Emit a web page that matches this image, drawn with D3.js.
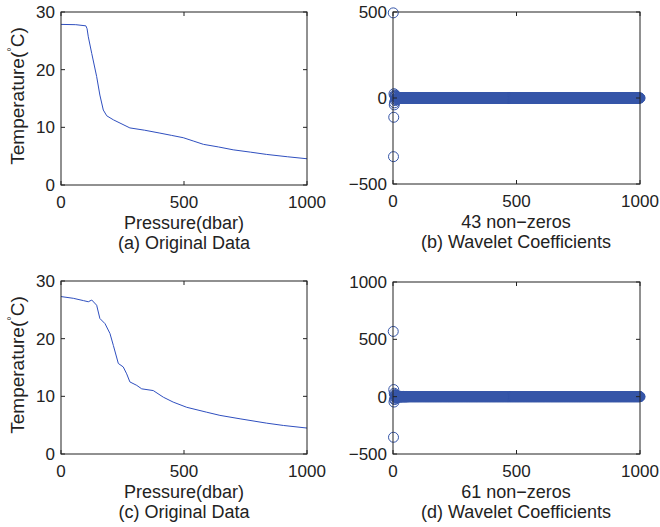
<!DOCTYPE html>
<html>
<head>
<meta charset="utf-8">
<script src="https://cdn.jsdelivr.net/npm/d3@7"></script>
<style>
  body { margin: 0; background: #fff; }
  text { font-family: Arial, "Liberation Sans", sans-serif; fill: #222; }
</style>
</head>
<body>
<div id="fig"></div>
<script>
// temperature profile (a)
var pressA = [0, 60, 101, 106, 111, 125, 145, 158, 172, 186, 213, 280, 340, 402, 450, 497, 540, 579, 640, 700, 770, 836, 920, 1000];
var tempA  = [27.85, 27.8, 27.6, 27.1, 25.7, 22.8, 18.8, 15.6, 13.0, 12.0, 11.3, 9.9, 9.5, 9.0, 8.6, 8.2, 7.6, 7.05, 6.6, 6.1, 5.7, 5.3, 4.9, 4.55];

// temperature profile (c)
var pressC = [0, 50, 91, 111, 125, 145, 158, 179, 199, 213, 233, 253, 267, 280, 308, 328, 375, 416, 456, 511, 592, 646, 728, 836, 904, 1000];
var tempC  = [27.3, 27.0, 26.6, 26.4, 26.7, 25.8, 23.5, 22.6, 20.9, 18.8, 15.7, 15.1, 13.9, 12.5, 11.9, 11.3, 11.0, 9.85, 9.0, 8.1, 7.25, 6.7, 6.1, 5.35, 4.95, 4.5];

// wavelet coefficients: number of samples, non-zero indices and values
var nCoef = 1000;
var nzIdxB = [1, 2, 3, 4, 5, 6, 7, 8, 9, 10, 11, 12, 13, 14, 15, 16, 17, 18, 19, 20, 21, 22, 23, 24, 25, 26, 27, 28, 29, 30, 31, 32, 33, 34, 35, 36, 37, 38, 39, 40, 41, 42, 43];
var nzValB = [495, -341, -112, 25, -40, -28, 18, 12, -15, 9, -8, 14, -6, 5, -10, 7, -4, 6, -5, 3, -3, 4, -2, 3, -2, 2, -3, 2, -1, 2, -2, 1, -1, 2, -1, 1, -2, 1, -1, 1, 2, -1, 1];
var nzIdxD = [1, 2, 3, 4, 5, 6, 7, 8, 9, 10, 11, 12, 13, 14, 15, 16, 17, 18, 19, 20, 21, 22, 23, 24, 25, 26, 27, 28, 29, 30, 31, 32, 33, 34, 35, 36, 37, 38, 39, 40, 41, 42, 43, 44, 45, 46, 47, 48, 49, 50, 51, 52, 53, 54, 55, 56, 57, 58, 59, 60, 61];
var nzValD = [569, -354, 62, -47, 30, -25, 18, -20, 12, -10, 15, -8, 9, -6, 7, -5, 6, -4, 5, -3, 4, -3, 3, -2, 4, -2, 3, -2, 2, -3, 2, -1, 2, -2, 1, -1, 2, -1, 1, -2, 1, -1, 2, -1, 1, -1, 1, -2, 1, -1, 1, -1, 2, -1, 1, -1, 1, -1, 1, -1, 1];

var xTicks = [0, 500, 1000];
var tempTicks = [0, 10, 20, 30];
var coefTicksB = [-500, 0, 500];
var coefTicksD = [-500, 0, 500, 1000];

var W = 660, H = 527;
var lineColor = "#2f4fbf";
var dotColor = "#3555a8";
var axisColor = "#222";

var svg = d3.select("#fig").append("svg")
  .attr("width", W).attr("height", H);

function fmt(v) { return v < 0 ? "\u2212" + Math.abs(v) : String(v); }

// draws a MATLAB style box with inward ticks on all sides
function drawBox(g, x, y, xt, yt) {
  var x0 = x.range()[0], x1 = x.range()[1];
  var y0 = y.range()[0], y1 = y.range()[1];
  g.append("rect")
    .attr("x", x0).attr("y", y1)
    .attr("width", x1 - x0).attr("height", y0 - y1)
    .attr("fill", "none").attr("stroke", axisColor).attr("stroke-width", 1);
  var tl = 4;
  xt.forEach(function (t) {
    var px = x(t);
    g.append("line").attr("x1", px).attr("x2", px).attr("y1", y0).attr("y2", y0 - tl)
      .attr("stroke", axisColor);
    g.append("line").attr("x1", px).attr("x2", px).attr("y1", y1).attr("y2", y1 + tl)
      .attr("stroke", axisColor);
    g.append("text").attr("x", px).attr("y", y0 + 22.5)
      .attr("text-anchor", "middle").style("font-size", "17px").text(fmt(t));
  });
  yt.forEach(function (t) {
    var py = y(t);
    g.append("line").attr("x1", x0).attr("x2", x0 + tl).attr("y1", py).attr("y2", py)
      .attr("stroke", axisColor);
    g.append("line").attr("x1", x1).attr("x2", x1 - tl).attr("y1", py).attr("y2", py)
      .attr("stroke", axisColor);
    g.append("text").attr("x", x0 - 6).attr("y", py + 6)
      .attr("text-anchor", "end").style("font-size", "17px").text(fmt(t));
  });
}

function curvePanel(top, pres, temp, cap) {
  var g = svg.append("g");
  var x = d3.scaleLinear().domain([0, 1000]).range([61, 307]);
  var y = d3.scaleLinear().domain([0, 30]).range([top + 173, top]);
  var line = d3.line().x(function (d) { return x(d[0]); }).y(function (d) { return y(d[1]); });
  g.append("path")
    .datum(d3.zip(pres, temp))
    .attr("d", line)
    .attr("fill", "none").attr("stroke", lineColor).attr("stroke-width", 1);
  drawBox(g, x, y, xTicks, tempTicks);

  var yl = g.append("text")
    .attr("transform", "translate(24," + (top + 84) + ") rotate(-90)")
    .attr("text-anchor", "middle").style("font-size", "19px");
  yl.append("tspan").text("Temperature(");
  yl.append("tspan").attr("dy", -9).style("font-size", "11px").text("\u00b0");
  yl.append("tspan").attr("dy", 9).text("C)");

  g.append("text").attr("x", 184).attr("y", top + 173 + 44)
    .attr("text-anchor", "middle").style("font-size", "18px").text("Pressure(dbar)");
  g.append("text").attr("x", 184).attr("y", top + 173 + 64)
    .attr("text-anchor", "middle").style("font-size", "18px").text(cap);
}

function coefPanel(top, ymin, ymax, yt, idx, val, label, cap) {
  var g = svg.append("g");
  var x = d3.scaleLinear().domain([0, 1000]).range([393, 640]);
  var y = d3.scaleLinear().domain([ymin, ymax]).range([top + 172, top]);
  var vals = new Array(nCoef).fill(0);
  idx.forEach(function (k, i) { vals[k - 1] = val[i]; });
  var pts = vals.map(function (v, i) { return [i + 1, v]; });
  g.selectAll("circle").data(pts).enter().append("circle")
    .attr("cx", function (d) { return x(d[0]); })
    .attr("cy", function (d) { return y(d[1]); })
    .attr("r", 5)
    .attr("fill", "none").attr("stroke", dotColor).attr("stroke-width", 1);
  drawBox(g, x, y, xTicks, yt);

  g.append("text").attr("x", 516).attr("y", top + 172 + 44)
    .attr("text-anchor", "middle").style("font-size", "18px").text(label);
  g.append("text").attr("x", 516).attr("y", top + 172 + 64)
    .attr("text-anchor", "middle").style("font-size", "18px").text(cap);
}

curvePanel(12, pressA, tempA, "(a) Original Data");
coefPanel(12, -500, 500, coefTicksB, nzIdxB, nzValB, "43 non\u2212zeros", "(b) Wavelet Coefficients");
curvePanel(281, pressC, tempC, "(c) Original Data");
coefPanel(282, -500, 1000, coefTicksD, nzIdxD, nzValD, "61 non\u2212zeros", "(d) Wavelet Coefficients");
</script>
</body>
</html>
